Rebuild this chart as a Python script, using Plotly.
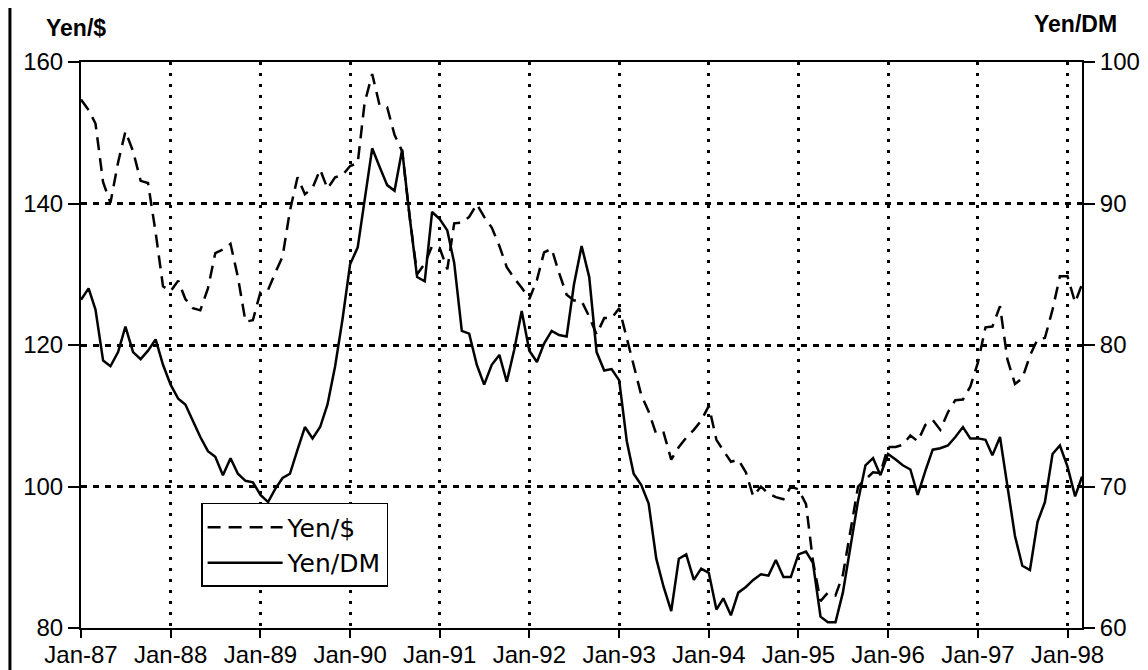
import pandas as pd
import plotly.graph_objects as go

# ===============================
# DATA (monthly, Jan-87 .. Mar-98)
# ===============================
MONTHS = pd.date_range("1987-01-01", periods=135, freq="MS")

YEN_USD = [
    154.7, 153.2, 151.3, 143.0, 140.1, 145.8, 150.2, 147.4, 143.2, 142.9, 135.9, 128.3,
    127.6, 129.1, 126.5, 125.2, 124.9, 128.0, 133.0, 133.5, 134.3, 129.6, 123.3, 123.5,
    127.5, 127.8, 130.1, 132.5, 139.0, 143.7, 141.3, 142.2, 144.8, 142.1, 143.7, 144.0,
    145.3, 145.7, 154.2, 158.3, 153.9, 153.6, 149.7, 147.4, 138.0, 130.0, 131.5, 134.0,
    133.7, 130.7, 137.2, 137.3, 138.1, 139.9, 138.1, 136.6, 134.0, 131.0, 129.4, 128.1,
    126.5, 129.2, 133.1, 133.6, 130.2, 127.1, 126.3, 126.2, 124.0, 121.5, 123.8, 123.8,
    125.2, 121.0, 117.1, 112.9, 110.6, 107.4, 107.6, 103.8, 105.6, 106.9, 108.0, 109.3,
    111.4, 106.6, 105.1, 103.5, 103.8, 102.0, 98.6, 100.0, 99.0, 98.5, 98.2, 100.0,
    99.6, 97.5, 89.5, 83.8, 85.0, 84.6, 87.5, 94.0, 100.0, 101.0, 102.0, 101.9,
    105.6, 105.6, 105.9, 107.2, 106.4, 108.7, 109.4, 108.0, 110.5, 112.2, 112.3, 114.1,
    117.5, 122.5, 122.6, 125.5, 118.0, 114.5, 115.3, 118.5, 120.8, 121.0, 125.0, 129.7,
    129.7, 126.0, 128.6,
]

YEN_DM = [
    83.2, 84.0, 82.5, 78.9, 78.5, 79.5, 81.3, 79.5, 79.0, 79.6, 80.4, 78.6,
    77.2, 76.2, 75.8, 74.6, 73.5, 72.5, 72.1, 70.8, 72.0, 70.9, 70.4, 70.3,
    69.4, 68.9, 69.8, 70.6, 70.9, 72.6, 74.2, 73.4, 74.2, 75.8, 78.5, 81.8,
    85.7, 86.9, 90.2, 93.9, 92.6, 91.3, 90.9, 93.8, 89.0, 84.8, 84.5, 89.4,
    88.9, 88.1, 85.8, 81.0, 80.8, 78.6, 77.2, 78.6, 79.3, 77.4, 79.7, 82.4,
    79.6, 78.8, 80.1, 81.0, 80.7, 80.6, 84.3, 87.0, 84.8, 79.5, 78.2, 78.3,
    77.5, 73.2, 70.9, 70.1, 68.8, 64.9, 62.9, 61.2, 64.9, 65.2, 63.4, 64.2,
    63.9, 61.3, 62.1, 60.9, 62.5, 62.9, 63.4, 63.8, 63.7, 64.8, 63.6, 63.6,
    65.2, 65.4, 64.6, 60.8, 60.4, 60.4, 62.5, 65.8, 69.0, 71.5, 72.0, 70.8,
    72.3, 71.9, 71.5, 71.2, 69.4, 71.1, 72.6, 72.7, 72.9, 73.5, 74.2, 73.4,
    73.4, 73.3, 72.2, 73.5, 70.0, 66.5, 64.4, 64.1, 67.5, 68.9, 72.3, 72.9,
    71.4, 69.3, 70.7,
]

LEFT_TICKS = [80, 100, 120, 140, 160]
RIGHT_TICKS = [60, 70, 80, 90, 100]

FONT = "Liberation Sans, Arial, sans-serif"

# page has an 8px body margin, so the figure is sized 8px smaller
W, H = 1140, 662

# ===============================
# FIGURE
# ===============================
fig = go.Figure()

fig.add_trace(go.Scatter(
    x=MONTHS, y=YEN_USD, name="Yen/$", mode="lines",
    line=dict(color="black", width=2.5, dash="13px,8px"),
))
fig.add_trace(go.Scatter(
    x=MONTHS, y=YEN_DM, name="Yen/DM", mode="lines", yaxis="y2",
    line=dict(color="black", width=2.5),
))

fig.update_layout(
    width=W, height=H,
    margin=dict(l=73, r=66, t=54, b=42, autoexpand=False),
    paper_bgcolor="white", plot_bgcolor="white",
    font=dict(family=FONT, color="black", size=24),
    xaxis=dict(
        range=["1987-01-01", "1998-03-01"],
        tickformat="%b-%y", dtick="M12", tick0="1987-01-01",
        ticks="outside", ticklen=8, tickwidth=1.5, tickcolor="black",
        showline=True, linecolor="black", linewidth=2, mirror=True,
        showgrid=True, gridcolor="black", gridwidth=3, griddash="3px,8px",
        tickfont=dict(size=24), ticklabelstandoff=-4,
        zeroline=False, automargin=False,
    ),
    yaxis=dict(
        range=[80, 160], tickvals=LEFT_TICKS,
        ticks="outside", ticklen=11, tickwidth=1.5, tickcolor="black",
        showline=True, linecolor="black", linewidth=2,
        showgrid=True, gridcolor="black", gridwidth=2.5, griddash="6px,6px",
        tickfont=dict(size=24), zeroline=False, automargin=False,
    ),
    yaxis2=dict(
        range=[60, 100], tickvals=RIGHT_TICKS, overlaying="y", side="right",
        ticks="outside", ticklen=11, tickwidth=1.5, tickcolor="black",
        showline=True, linecolor="black", linewidth=2,
        showgrid=False, tickfont=dict(size=24), zeroline=False, automargin=False,
    ),
    legend=dict(
        x=0.12, y=0.221, xanchor="left", yanchor="top",
        bgcolor="white", bordercolor="black", borderwidth=1.5,
        font=dict(family="DejaVu Sans, sans-serif", size=25),
        itemwidth=75, tracegroupgap=0,
    ),
    annotations=[
        dict(text="<b>Yen/$</b>", x=-0.005, y=1.06, xref="paper", yref="paper",
             xanchor="center", yanchor="middle", showarrow=False,
             font=dict(size=23)),
        dict(text="<b>Yen/DM</b>", x=0.994, y=1.068, xref="paper", yref="paper",
             xanchor="center", yanchor="middle", showarrow=False,
             font=dict(size=23)),
    ],
    shapes=[
        # frame edge at the left of the scanned page
        dict(type="line", xref="paper", yref="paper", x0=-0.071, x1=-0.071,
             y0=-0.08, y1=1.12, line=dict(color="black", width=3)),
    ],
)

fig.write_html("out.html")
